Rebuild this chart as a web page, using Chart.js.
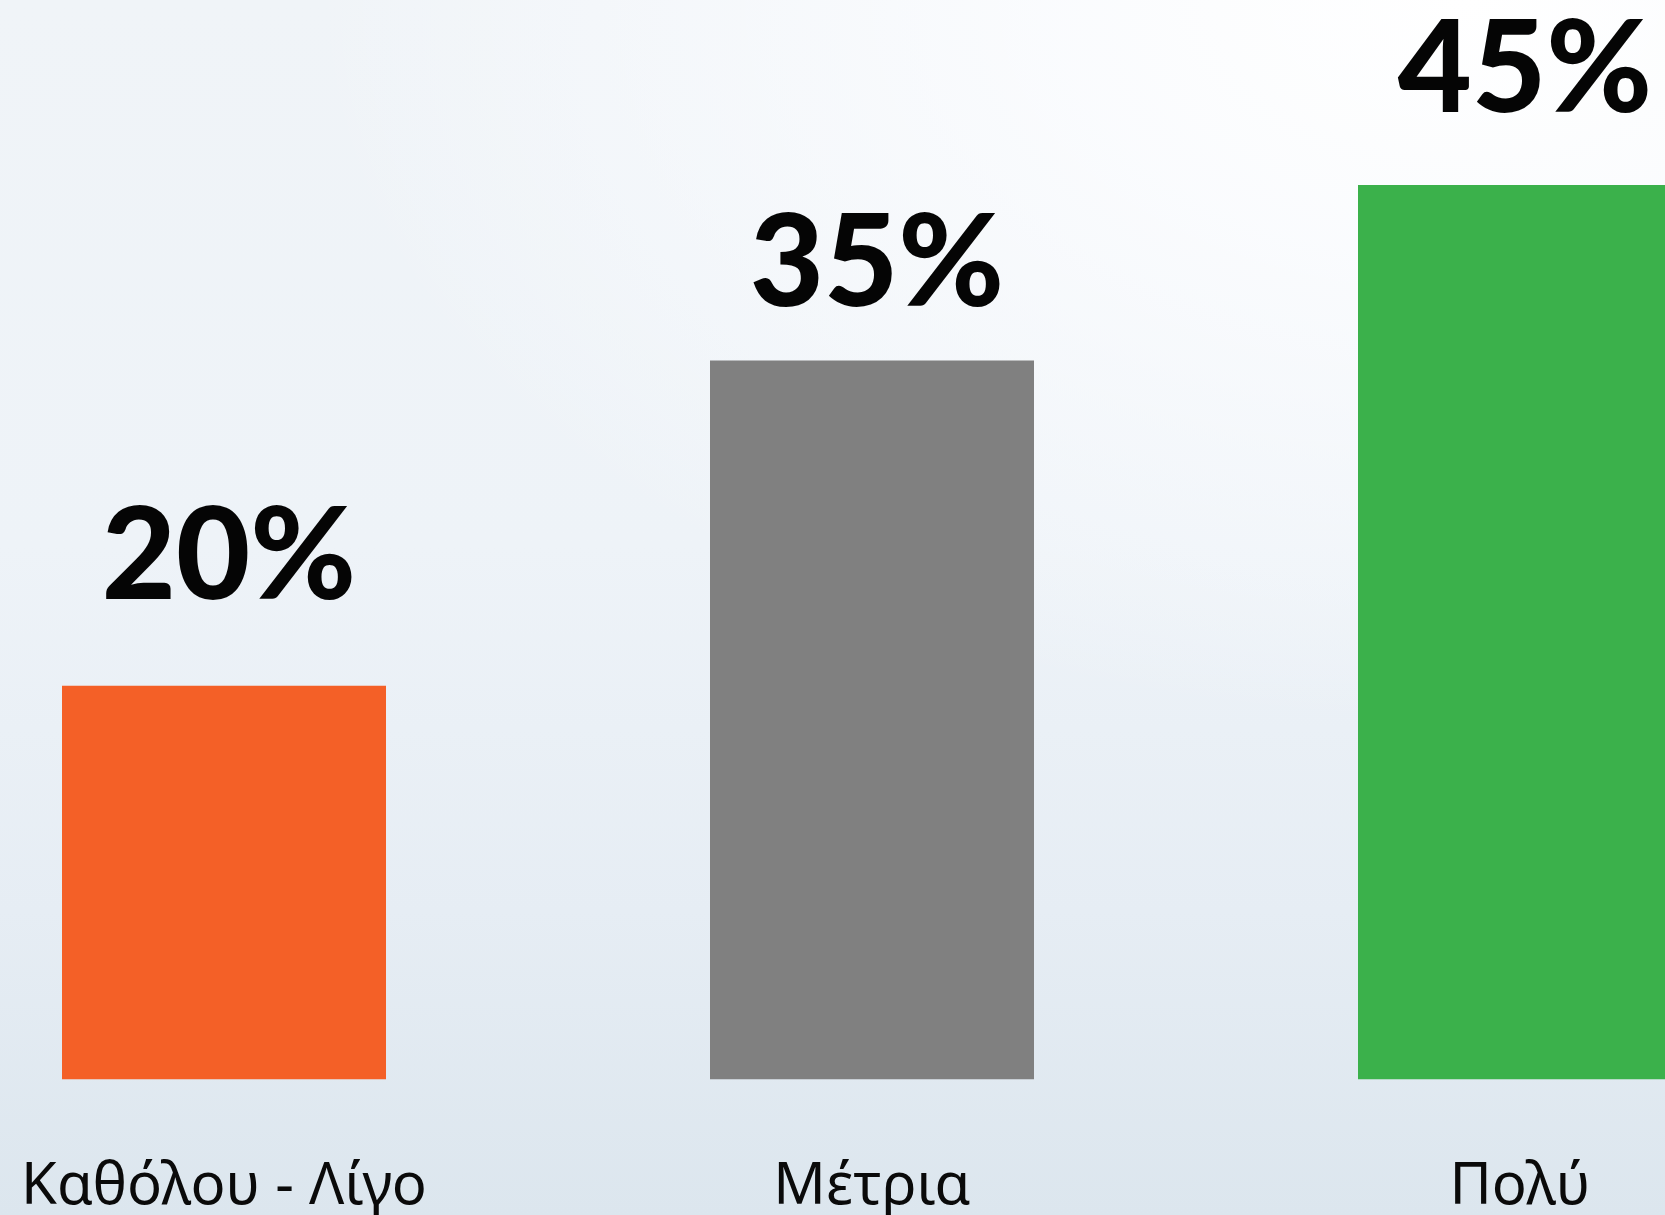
<!DOCTYPE html>
<html>
<head>
<meta charset="utf-8">
<script src="https://cdn.jsdelivr.net/npm/chart.js@4/dist/chart.umd.min.js"></script>
<style>
  html, body { margin: 0; padding: 0; width: 1665px; height: 1215px; overflow: hidden; }
  body {
    background:
      radial-gradient(ellipse 70% 60% at 88% 0%, rgba(255,255,255,1) 0%, rgba(252,253,255,0.85) 35%, rgba(248,250,253,0) 100%),
      linear-gradient(to bottom, #f0f4f8 0%, #eef3f8 45%, #e6edf4 75%, #dce6ee 100%);
    position: relative;
  }
  #wrap { position: absolute; left: -100px; top: 0; width: 1944px; height: 1295px; }
</style>
</head>
<body>
<div id="wrap"><canvas id="c" width="1944" height="1295"></canvas></div>
<script>
const categories = ["Καθόλου - Λίγο", "Μέτρια", "Πολύ"];
const barValues = [20.2, 36.9, 45.9];
const labelValues = [20, 35, 45];
const labelTexts = ["20%", "35%", "45%"];
const barColors = ["#f46027", "#808080", "#3bb14b"];

const valueLabels = {
  id: 'valueLabels',
  afterDatasetsDraw(chart) {
    const ctx = chart.ctx;
    const meta = chart.getDatasetMeta(0);
    const y = chart.scales.y;
    ctx.save();
    ctx.font = '900 128px Lato';
    ctx.fillStyle = '#050505';
    ctx.textAlign = 'center';
    ctx.textBaseline = 'alphabetic';
    meta.data.forEach((bar, i) => {
      const py = y.getPixelForValue(labelValues[i]) - 91;
      ctx.fillText(labelTexts[i], bar.x + 5, py);
    });
    ctx.restore();
  }
};

new Chart(document.getElementById('c'), {
  type: 'bar',
  data: {
    labels: categories,
    datasets: [{
      data: barValues,
      backgroundColor: barColors,
      borderWidth: 0,
      categoryPercentage: 1,
      barPercentage: 0.5
    }]
  },
  options: {
    responsive: false,
    animation: false,
    layout: { padding: 0 },
    plugins: { legend: { display: false }, tooltip: { enabled: false } },
    scales: {
      x: {
        grid: { display: false, drawTicks: false },
        border: { display: false },
        ticks: {
          color: '#0a0a0a',
          font: { family: 'Noto Sans', size: 58 },
          padding: 73,
          maxRotation: 0
        }
      },
      y: {
        display: false,
        min: 0,
        max: 55.4
      }
    }
  },
  plugins: [valueLabels]
});
</script>
</body>
</html>
